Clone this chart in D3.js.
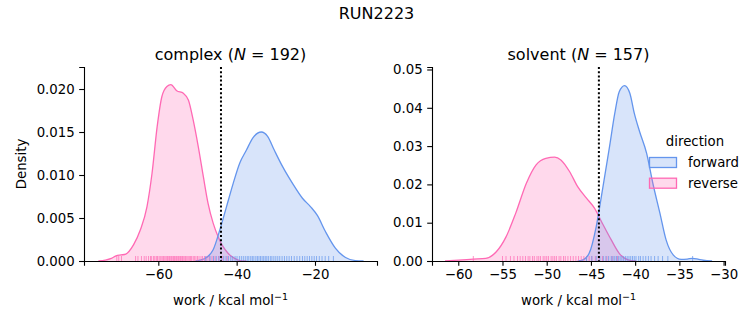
<!DOCTYPE html>
<html><head><meta charset="utf-8">
<script src="https://cdn.jsdelivr.net/npm/d3@7"></script>
<style>
body{margin:0;background:#fff;}
svg text{font-family:"DejaVu Sans",sans-serif;fill:#000;}
</style></head>
<body><svg id="c" width="753" height="325"></svg>
<script>
// ---------- data ----------
const suptitle = "RUN2223";
const panels = ["complex", "solvent"];
const panelN = [192, 157];
const directions = ["forward", "reverse"];
const colors = {forward: "#6495ED", reverse: "#FF69B4"};
const freeEnergy = [-44.0, -44.1];

const complexXTicks = [-60, -40, -20];
const complexYTicks = [0, 0.005, 0.010, 0.015, 0.020];
const solventXTicks = [-60, -55, -50, -45, -40, -35, -30];
const solventYTicks = [0, 0.01, 0.02, 0.03, 0.04, 0.05];

// KDE curves: [work, density]
const complexReverseKde = [[-75.3,0],[-73.5,0.0001],[-72,0.0003],[-70.8,0.0006],[-69.5,0.0007],[-68.3,0.0008],[-67.5,0.0011],[-66.3,0.0019],[-64.6,0.0036],[-62.9,0.0063],[-61.6,0.0102],[-60.3,0.0156],[-59.1,0.0191],[-57.8,0.0203],[-56.8,0.0205],[-55.3,0.0198],[-53.6,0.0195],[-52.3,0.0187],[-51.1,0.0164],[-49.8,0.0133],[-48.5,0.0098],[-47.3,0.0067],[-46.0,0.0044],[-44.7,0.0028],[-43.5,0.0017],[-42.2,0.0009],[-40.5,0.0003],[-39.2,0.00005],[-37.5,0]];
const complexForwardKde = [[-50.5,0],[-49.4,0.0001],[-47.7,0.0004],[-46.0,0.0013],[-44.3,0.0036],[-42.6,0.0063],[-40.9,0.0090],[-39.2,0.0114],[-37.5,0.0129],[-35.9,0.0143],[-33.7,0.0150],[-32.1,0.0145],[-30.4,0.0129],[-28.3,0.0110],[-25.7,0.0090],[-23.2,0.0073],[-21.1,0.0063],[-19.4,0.0053],[-17.3,0.0034],[-14.8,0.0015],[-12.2,0.0004],[-9.7,0.00005],[-7.6,0]];
const solventReverseKde = [[-61.5,0],[-59.5,0.0003],[-58.3,0.0005],[-56.9,0.0007],[-55.7,0.0024],[-54.6,0.0063],[-53.5,0.0125],[-52.3,0.0203],[-51.2,0.0251],[-50.1,0.0268],[-49.1,0.0271],[-48.4,0.0264],[-47.4,0.0233],[-46.5,0.0194],[-45.5,0.0164],[-44.6,0.0138],[-43.7,0.0098],[-42.7,0.0055],[-41.8,0.0020],[-40.8,0.0003],[-39.9,0]];
const solventForwardKde = [[-46.5,0],[-45.9,0.0003],[-45.2,0.0020],[-44.4,0.0090],[-43.7,0.0185],[-42.9,0.0298],[-42.3,0.0386],[-41.8,0.0442],[-41.2,0.0458],[-40.6,0.0438],[-40.1,0.0386],[-39.5,0.0338],[-38.7,0.0281],[-38.0,0.0203],[-37.2,0.0125],[-36.5,0.0055],[-35.7,0.0016],[-34.8,0.0004],[-34.1,0.0005],[-33.5,0.0007],[-32.8,0.0004],[-32.3,0.0002],[-31.3,0]];

// rug samples (work values)
const complexReverseRug = [-70.6,-70.1,-69.4,-65.8,-65.2,-64.3,-63.6,-63.1,-62.5,-62.0,-61.7,-61.2,-60.9,-60.5,-60.2,-59.8,-59.5,-59.1,-58.8,-58.6,-58.3,-58.0,-57.7,-57.5,-57.2,-57.0,-56.7,-56.5,-56.2,-56.0,-55.8,-55.5,-55.3,-55.0,-54.8,-54.5,-54.3,-54.0,-53.8,-53.5,-53.2,-53.0,-52.7,-52.4,-52.1,-51.8,-51.5,-51.1,-50.8,-50.4,-50.0,-49.6,-49.1,-48.7,-48.2,-47.6,-47.0,-46.3,-45.5,-44.6,-43.7,-42.4];
const complexForwardRug = [-47.9,-46.8,-45.9,-45.2,-44.5,-43.9,-43.3,-42.7,-42.1,-41.5,-41.0,-40.4,-39.9,-39.3,-38.8,-38.3,-37.8,-37.3,-36.9,-36.4,-36.0,-35.6,-35.1,-34.7,-34.3,-33.9,-33.5,-33.1,-32.7,-32.3,-31.9,-31.4,-31.0,-30.5,-30.0,-29.5,-29.0,-28.4,-27.8,-27.2,-26.6,-26.0,-25.3,-24.6,-23.9,-23.2,-22.6,-22.0,-21.4,-20.8,-20.2,-19.6,-18.9,-18.2,-17.4,-16.5,-15.3];
const solventReverseRug = [-58.3,-55.0,-54.6,-54.1,-53.7,-53.3,-53.0,-52.7,-52.4,-52.1,-51.9,-51.6,-51.4,-51.1,-50.9,-50.7,-50.4,-50.2,-50.0,-49.8,-49.5,-49.3,-49.1,-48.9,-48.6,-48.4,-48.1,-47.9,-47.6,-47.3,-47.0,-46.7,-46.4,-46.1,-45.8,-45.5,-45.2,-44.9,-44.5,-44.1,-43.7,-43.2,-42.6,-42.0];
const solventForwardRug = [-45.5,-44.9,-44.4,-44.0,-43.6,-43.3,-43.0,-42.7,-42.5,-42.3,-42.1,-41.9,-41.7,-41.5,-41.3,-41.1,-40.9,-40.7,-40.5,-40.3,-40.1,-39.9,-39.6,-39.4,-39.1,-38.8,-38.5,-38.2,-37.8,-37.4,-36.9,-36.3,-33.5];

// ---------- drawing ----------
const svg = d3.select("#c");
const FS = 13.3;
const axTop = 67, axBottom = 261;
const cfg = [
  {name: panels[0], N: panelN[0], left: 84, right: 377, xdom: [-78.97, -4.17], ydom: [0, 0.02256],
   xt: complexXTicks, yt: complexYTicks, yfmt: ".3f",
   kde: {forward: complexForwardKde, reverse: complexReverseKde},
   rug: {forward: complexForwardRug, reverse: complexReverseRug}, dg: freeEnergy[0], ylabel: true},
  {name: panels[1], N: panelN[1], left: 432, right: 725, xdom: [-62.97, -29.84], ydom: [0, 0.05065],
   xt: solventXTicks, yt: solventYTicks, yfmt: ".2f",
   kde: {forward: solventForwardKde, reverse: solventReverseKde},
   rug: {forward: solventForwardRug, reverse: solventReverseRug}, dg: freeEnergy[1], ylabel: false}
];

svg.append("text").attr("x", 376.5).attr("y", 18.5).attr("text-anchor", "middle")
  .style("font-size", "16px").text(suptitle);

cfg.forEach(p => {
  const x = d3.scaleLinear().domain(p.xdom).range([p.left, p.right]);
  const y = d3.scaleLinear().domain(p.ydom).range([axBottom, axTop]);
  const g = svg.append("g");
  const area = d3.area().x(d => x(d[0])).y0(y(0)).y1(d => y(d[1])).curve(d3.curveMonotoneX);
  const line = d3.line().x(d => x(d[0])).y(d => y(d[1])).curve(d3.curveMonotoneX);

  ["reverse", "forward"].forEach(dir => {
    g.append("path").attr("d", area(p.kde[dir])).attr("fill", colors[dir]).attr("fill-opacity", 0.25);
    g.append("path").attr("d", line(p.kde[dir])).attr("fill", "none")
      .attr("stroke", colors[dir]).attr("stroke-width", 1.3);
  });
  ["reverse", "forward"].forEach(dir => {
    g.selectAll(null).data(p.rug[dir]).enter().append("line")
      .attr("x1", d => x(d)).attr("x2", d => x(d))
      .attr("y1", axBottom).attr("y2", axBottom - 5)
      .attr("stroke", colors[dir]).attr("stroke-opacity", 0.7).attr("stroke-width", 1);
  });

  // dotted free energy line
  g.append("line").attr("x1", x(p.dg)).attr("x2", x(p.dg)).attr("y1", axTop).attr("y2", axBottom)
    .attr("stroke", "#000").attr("stroke-width", 2).attr("stroke-dasharray", "2,2.2");

  // axes
  const xa = svg.append("g").attr("transform", `translate(0,${axBottom})`)
    .call(d3.axisBottom(x).tickValues(p.xt).tickFormat(d3.format("d")).tickSizeOuter(0).tickSize(4.8).tickPadding(4));
  const ya = svg.append("g").attr("transform", `translate(${p.left},0)`)
    .call(d3.axisLeft(y).tickValues(p.yt).tickFormat(d3.format(p.yfmt)).tickSizeOuter(0).tickSize(4.8).tickPadding(4.5));
  [xa, ya].forEach(a => {
    a.selectAll("path,line").attr("stroke", "#000").attr("stroke-width", 1.1);
    a.selectAll("text").style("font-size", FS + "px").style("font-family", "DejaVu Sans").attr("fill", "#000");
  });

  const cx = (p.left + p.right) / 2;
  const t = svg.append("text").attr("x", cx).attr("y", 59.5).attr("text-anchor", "middle").style("font-size", "16px");
  t.append("tspan").text(p.name + " (");
  t.append("tspan").style("font-style", "italic").text("N");
  t.append("tspan").text(" = " + p.N + ")");

  const xl = svg.append("text").attr("x", cx).attr("y", 305).attr("text-anchor", "middle").style("font-size", FS + "px");
  xl.append("tspan").text("work / kcal mol");
  xl.append("tspan").attr("dy", -5).style("font-size", "9.5px").text("\u22121");

  if (p.ylabel) {
    svg.append("text").attr("transform", `translate(26,${(axTop + axBottom) / 2}) rotate(-90)`)
      .attr("text-anchor", "middle").style("font-size", FS + "px").text("Density");
  }
});

// legend
svg.append("text").attr("x", 695).attr("y", 146).attr("text-anchor", "middle").style("font-size", FS + "px").text("direction");
directions.forEach((dir, i) => {
  const yy = 157.5 + i * 20.7;
  svg.append("rect").attr("x", 649.5).attr("y", yy).attr("width", 27).attr("height", 10)
    .attr("fill", colors[dir]).attr("fill-opacity", 0.25).attr("stroke", colors[dir]).attr("stroke-width", 1.3);
  svg.append("text").attr("x", 688).attr("y", yy + 9.5).style("font-size", FS + "px").text(dir);
});
</script></body></html>
